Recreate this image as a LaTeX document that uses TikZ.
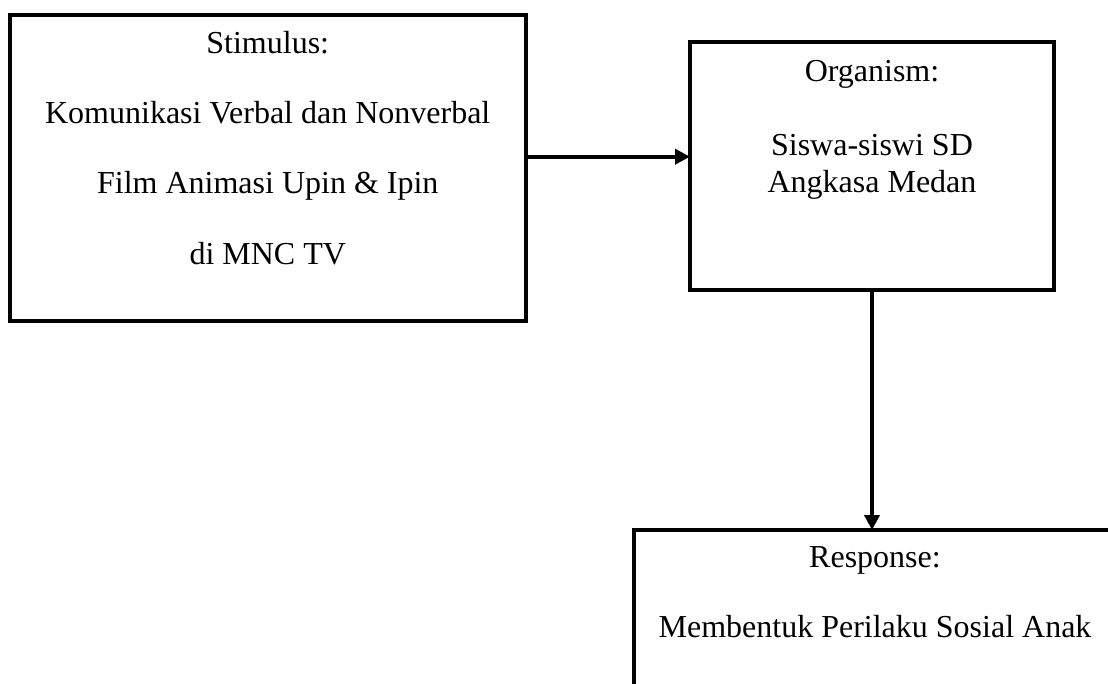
\documentclass[tikz,border=0pt]{standalone}
\usepackage{fontspec}
\setmainfont{Liberation Serif}
\usetikzlibrary{arrows.meta}
\begin{document}
\begin{tikzpicture}[x=0.5pt,y=-0.5pt,
  boxstyle/.style={draw, line width=2pt, inner sep=0pt, outer sep=0pt},
  lbl/.style={anchor=base, inner sep=0pt, font=\fontsize{16}{19}\selectfont},
  arr/.style={line width=2pt, -{Triangle[length=7.5pt,width=7.5pt]}}]
\useasboundingbox (0,0) rectangle (1108,684);
\clip (0,0) rectangle (1108,684);
% boxes
\node[boxstyle, minimum width=258.25pt, minimum height=153pt] (stim) at (267.75,168.3) {};
\node[boxstyle, minimum width=182pt, minimum height=123.7pt] (org) at (872,166) {};
\node[boxstyle, minimum width=240.5pt, minimum height=115pt] (resp) at (874.5,645) {};
% texts
\node[lbl] (s1) at (267.75,54) {Stimulus:};
\node[lbl] (s2) at (267.75,124) {Komunikasi Verbal dan Nonverbal};
\node[lbl] (s3) at (267.75,194) {Film Animasi Upin \& Ipin};
\node[lbl] (s4) at (267.75,264) {di MNC TV};
\node[lbl] (o1) at (872,82) {Organism:};
\node[lbl] (o2) at (872,156) {Siswa-siswi SD};
\node[lbl] (o3) at (872,193) {Angkasa Medan};
\node[lbl] (r1) at (875,567) {Response:};
\node[lbl] (r2) at (875,637) {Membentuk Perilaku Sosial Anak};
% connectors
\coordinate (h) at (600,156.7);
\draw[arr] (stim.east |- h) -- (org.west |- h);
\draw[arr] (org.south) -- (org.south |- resp.north);
\end{tikzpicture}
\end{document}
